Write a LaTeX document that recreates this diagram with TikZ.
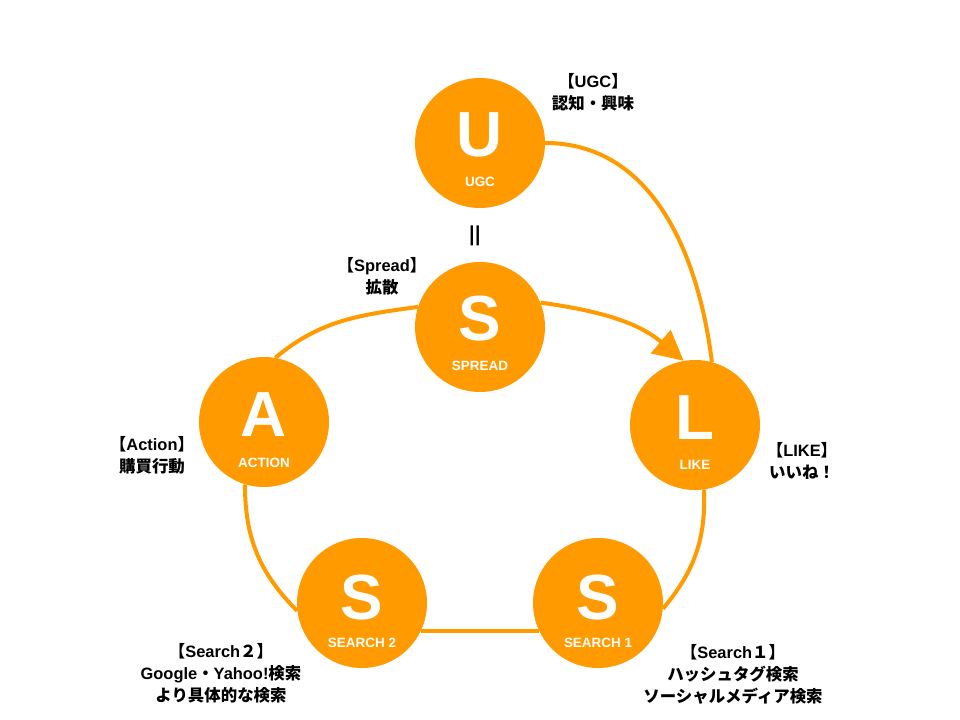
\documentclass[tikz,border=0pt]{standalone}
\usepackage{fontspec}
\setmainfont{Liberation Sans}
\newfontfamily\jp{Noto Sans CJK JP}
\usetikzlibrary{arrows.meta}
\definecolor{org}{RGB}{255,155,0}
\begin{document}
\begin{tikzpicture}[x=1bp,y=-1bp,
  circ/.style={circle,fill=org,minimum size=130bp,inner sep=0pt},
  big/.style={text=white,font=\bfseries\fontsize{64}{64}\selectfont,inner sep=0pt},
  small/.style={text=white,font=\bfseries\fontsize{13.5}{13.5}\selectfont,inner sep=0pt},
  lbl/.style={align=center,font=\bfseries\fontsize{16.5}{22}\selectfont,inner sep=0pt},
  conn/.style={draw=org,line width=4bp}]
\useasboundingbox (0,0) rectangle (960,720);
% circles
\node[circ] (U) at (480,143) {};
\node[circ] (SP) at (480,327) {};
\node[circ] (A) at (264,422) {};
\node[circ] (L) at (695,425) {};
\node[circ] (S2) at (362,603) {};
\node[circ] (S1) at (598,603) {};
% connectors
\path[conn] (U.east) to[out=0,in=97] (L.75);
\path[conn,-{Triangle[length=30bp,width=30bp]}] (SP.22) to[out=-8,in=140] (L.100);
\path[conn] (L.-82) to[out=-88,in=50] (S1.-5);
\path[conn] (S1.205) -- (S2.-25);
\path[conn] (A.-107) to[out=-90,in=135] (S2.187);
\path[conn] (A.80) to[out=40,in=188] (SP.162);
% letters
\node[big] (tU) at (480,135) {U};
\node[small] (sU) at (480,182) {UGC};
\node[big] (tSP) at (480,319) {S};
\node[small] (sSP) at (480,366) {SPREAD};
\node[big] (tA) at (264,415) {A};
\node[small] (sA) at (264,463) {ACTION};
\node[big] (tL) at (695,418) {L};
\node[small] (sL) at (695,465) {LIKE};
\node[big] (tS2) at (362,598) {S};
\node[small] (sS2) at (362,643) {SEARCH 2};
\node[big] (tS1) at (598,598) {S};
\node[small] (sS1) at (598,643) {SEARCH 1};
% vertical equals sign
\node[inner sep=0pt,font=\bfseries\fontsize{40}{40}\selectfont] (eq) at (476.5,236) {\rotatebox{90}{\scalebox{1}[0.55]{=}}};
% labels
\node[lbl] (lU) at (593,92) {{\jp【}UGC{\jp】}\\{\jp 認知・興味}};
\node[lbl] (lSP) at (382,276) {{\jp【}Spread{\jp】}\\{\jp 拡散}};
\node[lbl] (lA) at (152,455) {{\jp【}Action{\jp】}\\{\jp 購買行動}};
\node[lbl] (lL) at (802,461) {{\jp【}LIKE{\jp】}\\{\jp いいね！}};
\node[lbl] (lS2) at (221,673) {{\jp【}Search{\jp ２】}\\Google{\jp ・}Yahoo!{\jp 検索}\\{\jp より具体的な検索}};
\node[lbl] (lS1) at (733,674) {{\jp【}Search{\jp １】}\\{\jp ハッシュタグ検索}\\{\jp ソーシャルメディア検索}};
\end{tikzpicture}
\end{document}
